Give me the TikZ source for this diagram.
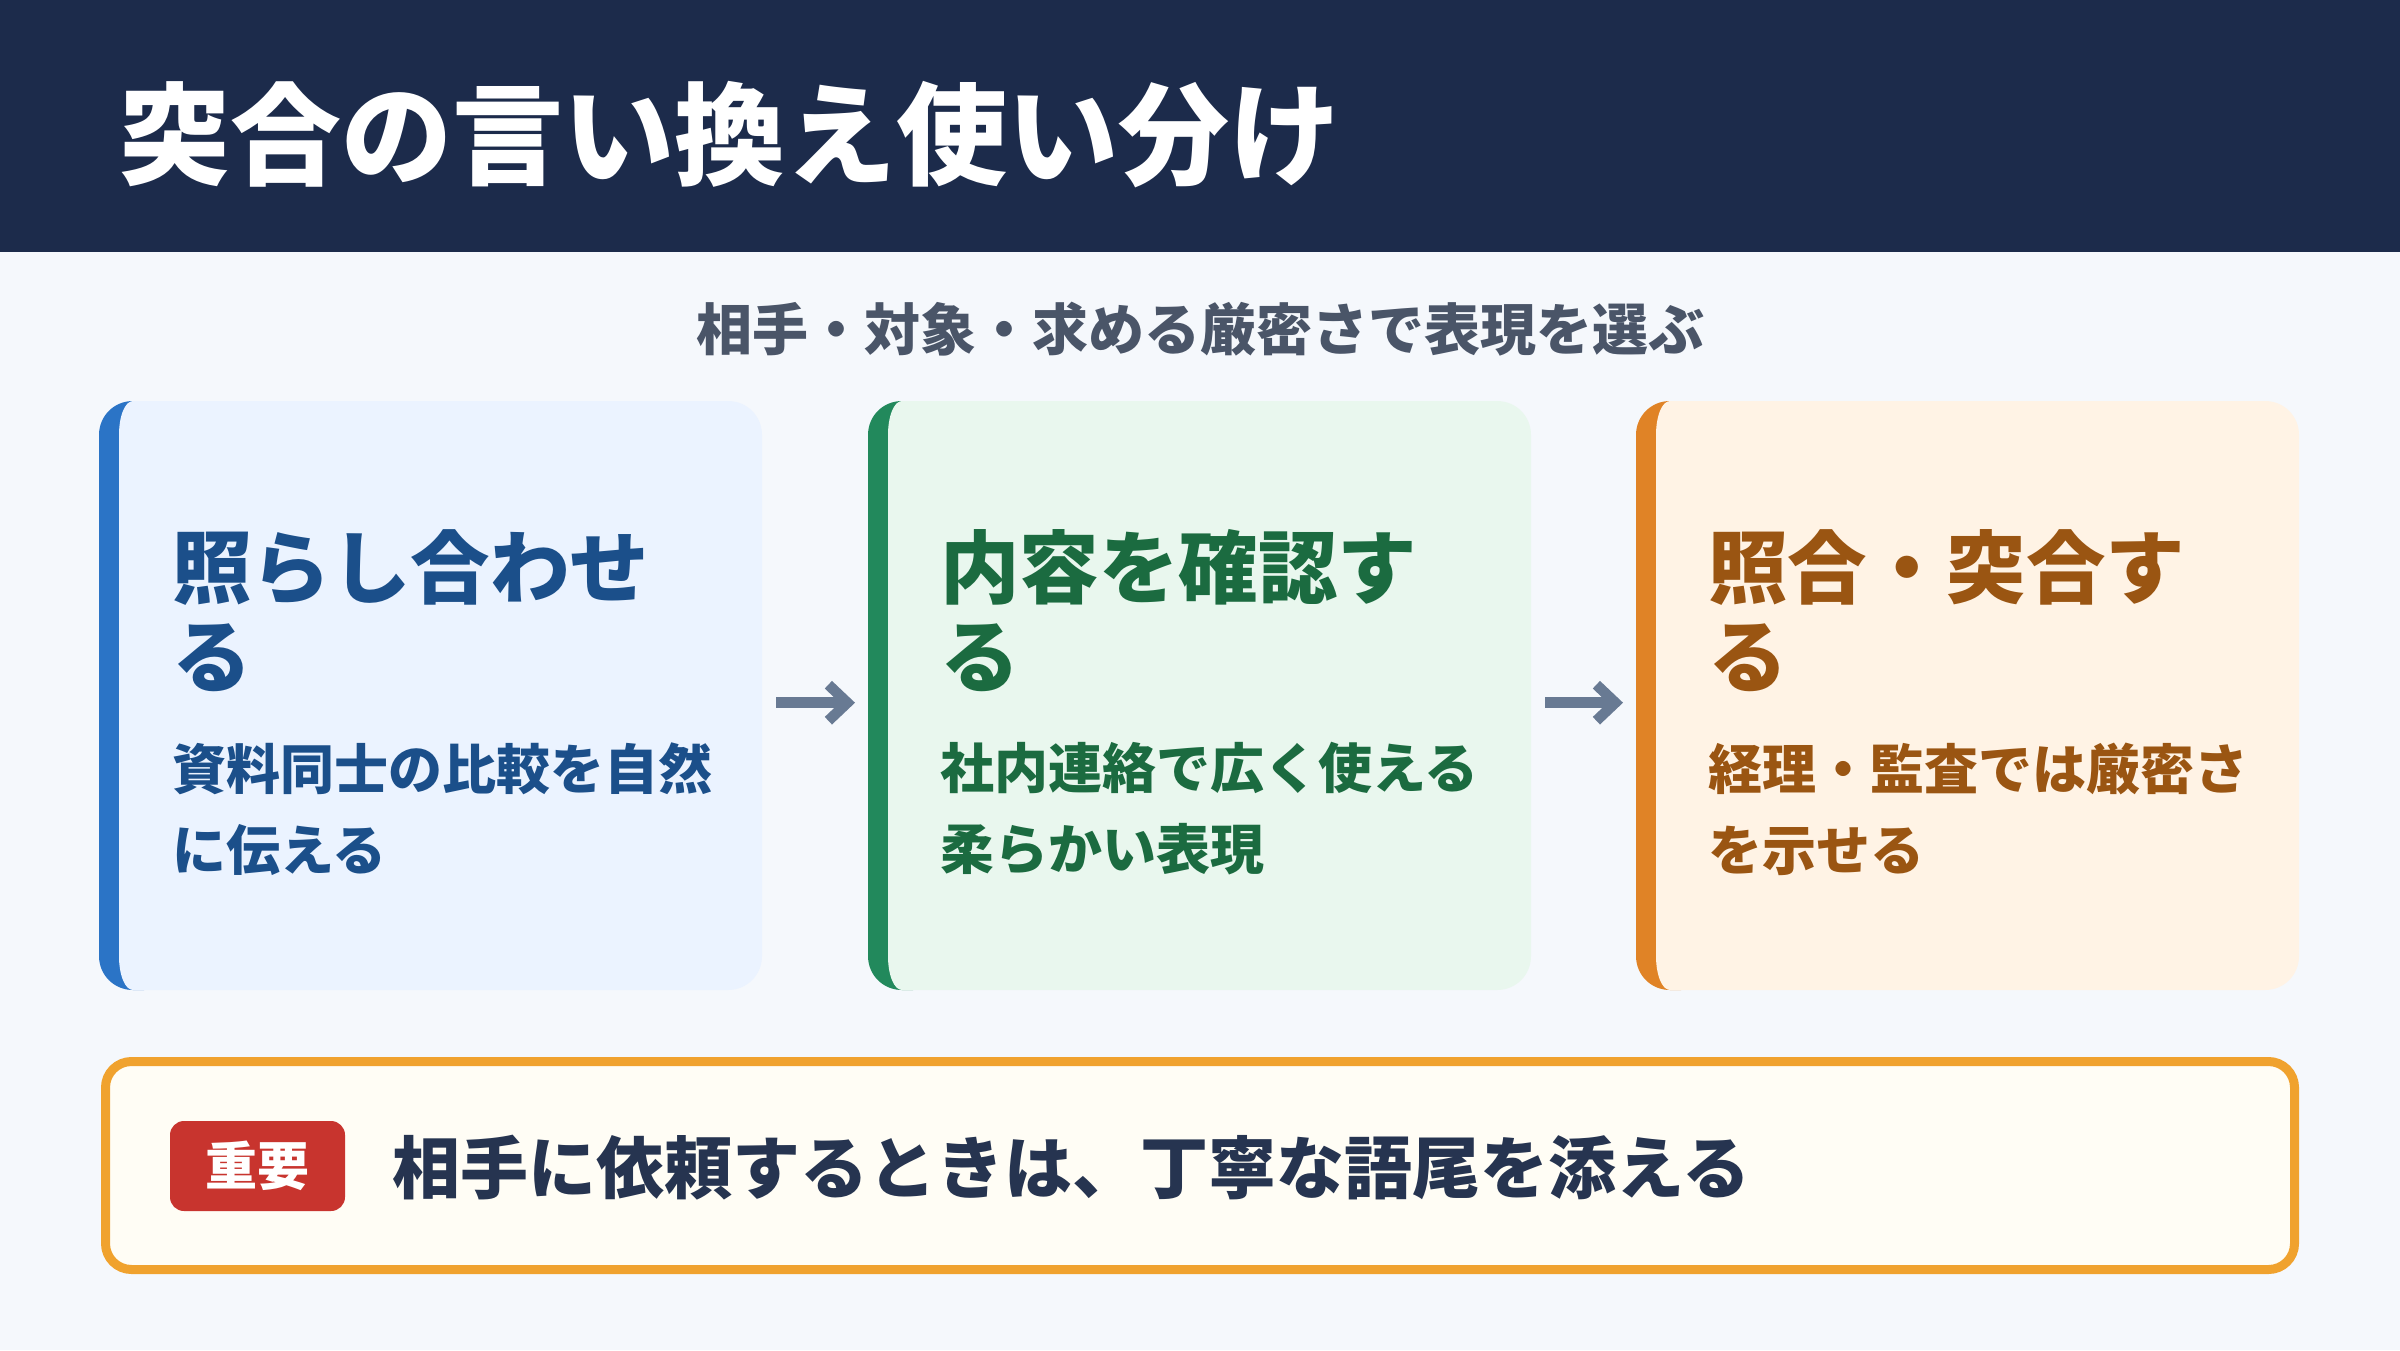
\documentclass[tikz,border=0pt]{standalone}
\usepackage{fontspec}
\setmainfont{Noto Sans CJK JP}
\usetikzlibrary{arrows.meta}
\definecolor{bgc}{HTML}{F5F8FC}
\definecolor{hdr}{HTML}{1C2B4B}
\definecolor{subc}{HTML}{4A5568}
\definecolor{accA}{HTML}{2B74C6}
\definecolor{fillA}{HTML}{EBF3FF}
\definecolor{txtA}{HTML}{1B4F8A}
\definecolor{accB}{HTML}{22895C}
\definecolor{fillB}{HTML}{E9F7EE}
\definecolor{txtB}{HTML}{1B6B40}
\definecolor{accC}{HTML}{E08326}
\definecolor{fillC}{HTML}{FFF3E5}
\definecolor{txtC}{HTML}{9A5512}
\definecolor{arrc}{HTML}{687A93}
\definecolor{noteb}{HTML}{F0A22E}
\definecolor{notef}{HTML}{FFFDF5}
\definecolor{badgec}{HTML}{C8342E}
\definecolor{notet}{HTML}{263450}
\newcommand\cardbg[3]{%
  % #1 = left x, #2 = accent, #3 = fill
  \begin{scope}
  \clip (#1,390) rectangle ({#1+45},1000);
  \fill[#2] ({#1+34},401) -- ({#1+663-34},401)
    -- ({#1+663},{990-34})
    -- ({#1+663-34},990)
    -- ({#1+34},990)
    .. controls ({#1+15},990) and (#1,{990-15}) .. (#1,{990-34})
    -- (#1,{401+34})
    .. controls (#1,{401+15}) and ({#1+15},401) .. ({#1+34},401) -- cycle;
  \end{scope}
  \fill[#3] ({#1+34},401) -- ({#1+663-34},401)
    .. controls ({#1+663-15},401) and ({#1+663},{401+15}) .. ({#1+663},{401+34})
    -- ({#1+663},{990-34})
    .. controls ({#1+663},{990-15}) and ({#1+663-15},990) .. ({#1+663-34},990)
    -- ({#1+34},990)
    .. controls ({#1+26},990) and ({#1+20},{990-15}) .. ({#1+20},{990-34})
    -- ({#1+20},{401+34})
    .. controls ({#1+20},{401+15}) and ({#1+26},401) .. ({#1+34},401) -- cycle;
}
\tikzset{
  cardbox/.style={minimum width=663pt, minimum height=589pt, inner sep=0pt, anchor=north west},
  cardtitle/.style={anchor=west, align=left, inner sep=0pt, font=\fontsize{79.5}{89}\selectfont\bfseries},
  carddesc/.style={anchor=west, align=left, inner sep=0pt, font=\fontsize{54}{81}\selectfont\bfseries},
  flowarrow/.style={arrc, line width=10.5pt, shorten <=14pt, shorten >=13pt, -{Straight Barb[length=19pt,width=36pt,line width=10.5pt]}}
}
\begin{document}
\begin{tikzpicture}[x=1pt,y=-1pt]
\useasboundingbox (0,0) rectangle (2400,1350);
\fill[bgc] (0,0) rectangle (2400,1350);
\fill[hdr] (0,0) rectangle (2400,252);
\node[anchor=west, text=white, inner sep=0pt, font=\fontsize{111}{120}\selectfont\bfseries] (title) at (119,135) {突合の言い換え使い分け};
\node[text=subc, inner sep=0pt, font=\fontsize{56}{60}\selectfont\bfseries] (sub) at (1200,329) {相手・対象・求める厳密さで表現を選ぶ};

\cardbg{99}{accA}{fillA}
\cardbg{868}{accB}{fillB}
\cardbg{1636}{accC}{fillC}
\node[cardbox] (c1) at (99,401) {};
\node[cardbox] (c2) at (868,401) {};
\node[cardbox] (c3) at (1636,401) {};

\node[cardtitle, text=txtA] (t1) at (172,611) {照らし合わせ\\る};
\node[carddesc, text=txtA] (d1) at (172,809) {資料同士の比較を自然\\に伝える};
\node[cardtitle, text=txtB] (t2) at (940,611) {内容を確認す\\る};
\node[carddesc, text=txtB] (d2) at (940,809) {社内連絡で広く使える\\柔らかい表現};
\node[cardtitle, text=txtC] (t3) at (1708,611) {照合・突合す\\る};
\node[carddesc, text=txtC] (d3) at (1708,809) {経理・監査では厳密さ\\を示せる};

\draw[flowarrow] ([yshift=-7pt]c1.east) -- ([yshift=-7pt]c2.west);
\draw[flowarrow] ([yshift=-7pt]c2.east) -- ([yshift=-7pt]c3.west);

\draw[noteb, fill=notef, line width=9pt, rounded corners=26pt] (105.5,1061.5) rectangle (2294.5,1269.5);
\node[fill=badgec, rounded corners=14pt, minimum width=175pt, minimum height=90pt, inner sep=0pt, text=white, font=\fontsize{52}{56}\selectfont\bfseries] (badge) at (257.5,1166) {重要};
\node[anchor=west, inner sep=0pt, text=notet, font=\fontsize{68}{72}\selectfont\bfseries] (note) at (392,1168) {相手に依頼するときは、丁寧な語尾を添える};
\end{tikzpicture}
\end{document}
